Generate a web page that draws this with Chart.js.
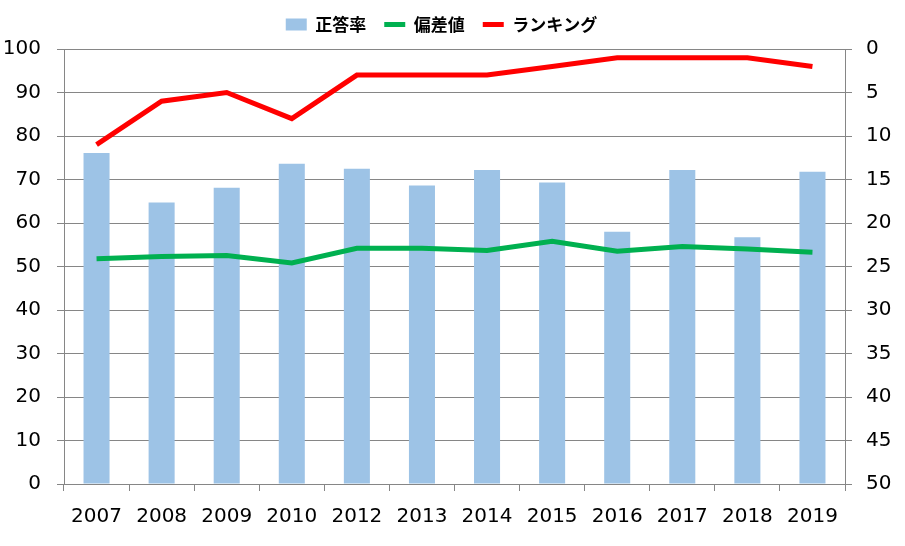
<!DOCTYPE html>
<html>
<head>
<meta charset="utf-8">
<script src="https://cdn.jsdelivr.net/npm/chart.js@4"></script>
<style>
  html, body { margin: 0; padding: 0; background: #fff; }
  #wrap { width: 905px; height: 546px; }
</style>
</head>
<body>
<div id="wrap"><canvas id="c" width="905" height="546"></canvas></div>
<script>
// --- 正答率 / 偏差値 / ランキング ---
const years = ['2007', '2008', '2009', '2010', '2012', '2013', '2014', '2015', '2016', '2017', '2018', '2019'];
const seitouritsu = [76.1, 64.7, 68.1, 73.6, 72.5, 68.6, 72.2, 69.3, 58.0, 72.2, 56.7, 71.8];
const hensachi = [51.8, 52.3, 52.5, 50.8, 54.2, 54.2, 53.7, 55.8, 53.5, 54.6, 54.0, 53.3];
const ranking = [11, 6, 5, 8, 3, 3, 3, 2, 1, 1, 1, 2];

const gridColor = '#868686';
const tickFont = { family: 'DejaVu Sans', size: 20 };

// give the legend a bit more room below it, and nudge it up/left like the original
const legendSpacer = {
    id: 'legendSpacer',
    beforeLayout(chart) {
        const lg = chart.legend;
        if (!lg || lg._spaced) return;
        const fit = lg.fit;
        lg.fit = function () {
            fit.call(this);
            this.height += 4;
        };
        lg._spaced = true;
    },
    afterLayout(chart) {
        const lg = chart.legend;
        if (!lg) return;
        lg.left -= 22;
        lg.top -= 2;
        lg.bottom -= 2;
    }
};

const ctx = document.getElementById('c');
const chart = new Chart(ctx, {
    type: 'bar',
    data: {
        labels: years,
        datasets: [
            {
                label: '正答率',
                data: seitouritsu,
                backgroundColor: '#9DC3E6',
                categoryPercentage: 1,
                barPercentage: 0.4,
                yAxisID: 'y',
                order: 3
            },
            {
                type: 'line',
                label: '偏差値',
                data: hensachi,
                borderColor: '#00B050',
                backgroundColor: '#00B050',
                borderWidth: 5,
                pointRadius: 0,
                tension: 0,
                yAxisID: 'y',
                order: 2
            },
            {
                type: 'line',
                label: 'ランキング',
                data: ranking,
                borderColor: '#FF0000',
                backgroundColor: '#FF0000',
                borderWidth: 5,
                pointRadius: 0,
                tension: 0,
                yAxisID: 'y1',
                order: 1
            }
        ]
    },
    plugins: [legendSpacer],
    options: {
        responsive: false,
        animation: false,
        layout: { padding: { top: 0, left: 0, right: 0, bottom: 0 } },
        plugins: {
            tooltip: { enabled: false },
            legend: {
                position: 'top',
                labels: {
                    color: '#000',
                    font: { family: '"Noto Sans CJK JP"', size: 17, weight: 'bold' },
                    usePointStyle: true,
                    pointStyleWidth: 21,
                    boxHeight: 12,
                    padding: 18,
                    sort: (a, b) => a.datasetIndex - b.datasetIndex,
                    generateLabels: (chart) => {
                        const items = Chart.defaults.plugins.legend.labels.generateLabels(chart);
                        items.forEach(it => {
                            if (it.datasetIndex === 0) {
                                it.pointStyle = 'rect';
                                it.lineWidth = 0;
                            } else {
                                it.pointStyle = 'line';
                                it.lineWidth = 5;
                            }
                        });
                        return items;
                    }
                }
            }
        },
        scales: {
            x: {
                grid: {
                    offset: true,
                    drawOnChartArea: false,
                    color: gridColor,
                    tickLength: 7
                },
                border: { color: gridColor },
                ticks: { color: '#000', font: tickFont, padding: 14, maxRotation: 0 },
                afterFit: (s) => { s.height = 62; }
            },
            y: {
                position: 'left',
                min: 0,
                max: 100,
                ticks: { stepSize: 10, color: '#000', font: tickFont, padding: 16 },
                grid: { color: gridColor, tickLength: 7 },
                border: { color: gridColor },
                afterFit: (s) => { s.width = 64; }
            },
            y1: {
                position: 'right',
                reverse: true,
                min: 0,
                max: 50,
                ticks: { stepSize: 5, color: '#000', font: tickFont, padding: 14 },
                grid: { drawOnChartArea: false, color: gridColor, tickLength: 7 },
                border: { color: gridColor },
                afterFit: (s) => { s.width = 60; }
            }
        }
    }
});
</script>
</body>
</html>
